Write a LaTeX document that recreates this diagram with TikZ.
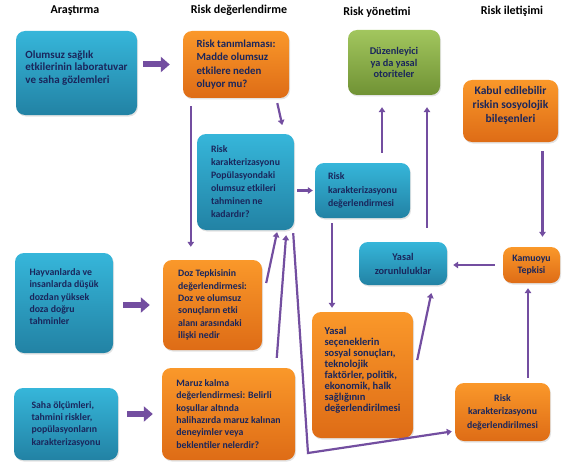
\documentclass[tikz,border=0pt]{standalone}
\usepackage{fontspec}
\setmainfont{Carlito}
\usepackage{xcolor}
\usepackage{tikz}
\definecolor{boxblue}{RGB}{54, 182, 218}
\definecolor{boxbluedark}{RGB}{34, 130, 164}
\definecolor{boxorange}{RGB}{250, 152, 42}
\definecolor{boxorangedark}{RGB}{222, 108, 22}
\definecolor{boxgreen}{RGB}{162, 198, 94}
\definecolor{boxgreendark}{RGB}{112, 146, 52}
\definecolor{textnavy}{RGB}{26, 38, 92}
\definecolor{linkpurple}{RGB}{115, 78, 160}
\usetikzlibrary{arrows.meta, shadows}

\begin{document}
\begin{tikzpicture}[
    x=1pt, y=-1pt,
    box/.style={rectangle, rounded corners=9pt, align=left, inner sep=3pt, text=textnavy, font=\fontsize{9.8}{12.3}\selectfont\bfseries, drop shadow={opacity=0.22, shadow xshift=1pt, shadow yshift=-1.5pt}},
    studybox/.style={box, top color=boxblue, bottom color=boxbluedark},
    evalbox/.style={box, top color=boxorange, bottom color=boxorangedark},
    authbox/.style={box, align=center, top color=boxgreen, bottom color=boxgreendark},
    heading/.style={font=\fontsize{12}{14}\selectfont\bfseries, text=black},
    link/.style={draw=linkpurple, line width=2.2pt, -{Triangle[length=5pt, width=6.5pt]}},
    bigarrow/.style={draw=linkpurple, line width=6pt, -{Triangle[length=9pt, width=15pt]}}
]
    \useasboundingbox (0,0) rectangle (564,468);

    % Column headings
    \node[heading] (hres) at (75,11) {Araştırma};
    \node[heading] (hass) at (239,10) {Risk değerlendirme};
    \node[heading] (hman) at (377,12) {Risk yönetimi};
    \node[heading] (hcom) at (512,11) {Risk iletişimi};

    % Research column
    \node[studybox, font=\fontsize{11}{12.5}\selectfont\bfseries, minimum width=121pt, minimum height=84pt] (obs) at (76.5,73) {Olumsuz sağlık\\etkilerinin laboratuvar\\ve saha gözlemleri\\};
    \node[studybox, minimum width=98pt, minimum height=100pt] (extrap) at (64,303) {Hayvanlarda ve\\insanlarda düşük\\dozdan yüksek\\doza doğru\\tahminler\\};
    \node[studybox, minimum width=104pt, minimum height=72pt] (field) at (66,424) {Saha ölçümleri,\\tahmini riskler,\\popülasyonların\\karakterizasyonu};

    % Risk assessment
    \node[evalbox, font=\fontsize{10.8}{13.3}\selectfont\bfseries, minimum width=106pt, minimum height=67pt] (hazard) at (236,64.5) {Risk tanımlaması:\\Madde olumsuz\\etkilere neden\\oluyor mu?};
    \node[studybox, font=\fontsize{9.8}{13}\selectfont\bfseries, minimum width=97pt, minimum height=96pt] (riskchar) at (245.5,182) {Risk\\karakterizasyonu\\Popülasyondaki\\olumsuz etkileri\\tahminen ne\\kadardır?};
    \node[evalbox, minimum width=99pt, minimum height=90pt] (dose) at (212.5,305) {Doz Tepkisinin\\değerlendirmesi:\\Doz ve olumsuz\\sonuçların etki\\alanı arasındaki\\ilişki nedir};
    \node[evalbox, minimum width=133pt, minimum height=92pt] (exposure) at (228.5,414) {Maruz kalma\\değerlendirmesi: Belirli\\koşullar altında\\halihazırda maruz kalınan\\deneyimler veya\\beklentiler nelerdir?};

    % Risk management
    \node[authbox, font=\fontsize{10.3}{11.5}\selectfont\bfseries, minimum width=92pt, minimum height=65pt] (auth) at (394,62.5) {Düzenleyici\\ya da yasal\\otoriteler};
    \node[studybox, font=\fontsize{9.8}{13.3}\selectfont\bfseries, minimum width=95pt, minimum height=55pt] (charev) at (362.5,190.5) {Risk\\karakterizasyonu\\değerlendirmesi};
    \node[studybox, align=center, font=\fontsize{10.3}{14}\selectfont\bfseries, minimum width=88pt, minimum height=43pt] (legal) at (403,263.5) {Yasal\\zorunluluklar};
    \node[evalbox, font=\fontsize{10.5}{11}\selectfont\bfseries, minimum width=101pt, minimum height=126pt] (options) at (362.5,375) {Yasal\\seçeneklerin\\sosyal sonuçları,\\teknolojik\\faktörler, politik,\\ekonomik, halk\\sağlığının\\değerlendirilmesi\\};

    % Risk communication
    \node[evalbox, align=center, font=\fontsize{11.5}{14}\selectfont\bfseries, minimum width=95pt, minimum height=62pt] (social) at (510.5,111) {Kabul edilebilir\\riskin sosyolojik\\bileşenleri\\};
    \node[evalbox, align=center, minimum width=57pt, minimum height=36pt] (public) at (531.5,265) {Kamuoyu\\Tepkisi};
    \node[evalbox, align=center, font=\fontsize{9.8}{13.5}\selectfont\bfseries, minimum width=95pt, minimum height=58pt] (charev2) at (502.5,412) {Risk\\karakterizasyonu\\değerlendirilmesi};

    \coordinate (bend) at (308,453);

    % Research to assessment
    \draw[bigarrow, shorten <=6pt, shorten >=13pt] (obs.east |- hazard.west) -- (hazard.west);
    \draw[bigarrow, shorten <=10pt, shorten >=13pt] (extrap.east |- dose.west) -- (dose.west);
    \draw[bigarrow, shorten <=9pt, shorten >=9pt] (field.east |- exposure.west) -- (exposure.west);

    % Arrows
    \draw[link, shorten <=8pt, shorten >=13pt] ([xshift=8pt]hazard.south west) -- ([xshift=8pt]hazard.south west |- dose.north);
    \draw[link, shorten <=5pt, shorten >=9pt] ([xshift=-13pt]hazard.south east) -- ([xshift=-10pt]riskchar.north east);
    \draw[link, shorten <=3pt, shorten >=2pt] (riskchar.east |- charev.west) -- (charev.west);
    \draw[link, shorten <=10pt, shorten >=12pt] ([xshift=19.5pt]charev.north) -- ([xshift=19.5pt]charev.north |- auth.south);
    \draw[link, shorten <=14pt, shorten >=12pt] ([xshift=24pt]legal.north) -- ([xshift=24pt]legal.north |- auth.south);
    \draw[link, shorten <=5pt, shorten >=4pt] ([xshift=-30.5pt]charev.south) -- ([xshift=-30.5pt]charev.south |- options.north);
    \draw[link, shorten >=8pt] ([xshift=4pt, yshift=15pt]options.east) -- ([xshift=30pt]legal.south);
    \draw[link, shorten <=8pt, shorten >=6pt] (public.west) -- (public.west -| legal.east);
    \draw[link, shorten <=9pt, shorten >=10pt] ([xshift=32pt]social.south) -- ([xshift=32pt]social.south |- public.north);
    \draw[link, shorten <=5pt, shorten >=5pt] ([xshift=25.5pt]charev2.north) -- ([xshift=25.5pt]charev2.north |- public.south);

    % Into risk characterization
    \draw[link, shorten >=2pt] ([xshift=4pt, yshift=22pt]dose.east) -- ([xshift=32pt]riskchar.south);
    \draw[link, shorten <=10pt, shorten >=5pt] ([xshift=47.5pt]exposure.north) -- ([xshift=41pt]riskchar.south);
    \draw[link, shorten >=3pt] ([xshift=-1pt, yshift=-3pt]riskchar.south east) -- (bend) -- ([yshift=-19pt]charev2.west);

\end{tikzpicture}
\end{document}
